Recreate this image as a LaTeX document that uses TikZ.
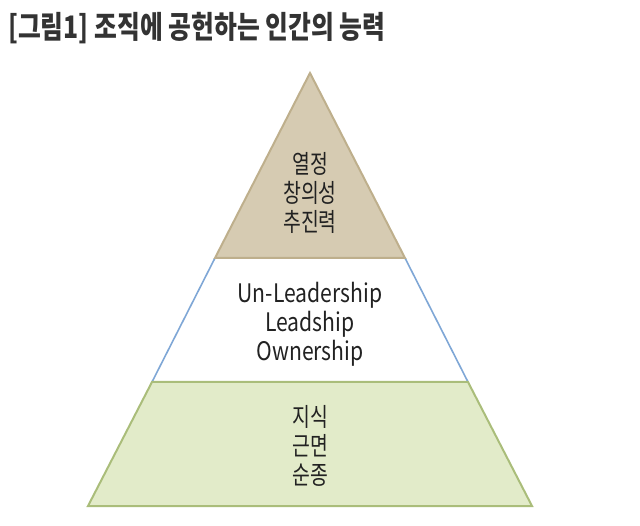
\documentclass[tikz,border=0pt]{standalone}
\usepackage{fontspec}
\newfontfamily\krfont[FakeStretch=0.76]{Noto Sans CJK KR}
\newfontfamily\enfont[FakeStretch=0.83]{Noto Sans CJK KR}
\newfontfamily\headfont[FakeStretch=0.8]{Noto Sans CJK KR}
\usepackage{xcolor}
\usepackage{tikz}
\usetikzlibrary{calc}
\definecolor{tan}{HTML}{D6CBB2}
\definecolor{tanline}{HTML}{BEAF8C}
\definecolor{skyline}{HTML}{7FA7D6}
\definecolor{lightgreen}{HTML}{E2EBC9}
\definecolor{greenline}{HTML}{AABD7A}
\definecolor{ink}{HTML}{222222}
\definecolor{titleink}{HTML}{333333}
\tikzset{
  layer/.style={line width=2pt,line join=miter},
  sideline/.style={draw=skyline,line width=1.6pt},
  tiertext/.style={
    text=ink,align=center,inner sep=0pt,
    font=\krfont\fontsize{25.5}{29}\selectfont
  },
  entext/.style={tiertext,font=\enfont\fontsize{25.5}{29}\selectfont},
  titletext/.style={
    text=titleink,inner sep=0pt,
    font=\headfont\bfseries\fontsize{31}{35}\selectfont
  }
}

\begin{document}
\begin{tikzpicture}[x=1pt,y=-1pt]
\useasboundingbox (0,0) rectangle (640,526);

% corners of the pyramid
\coordinate (apex) at (310,73);
\coordinate (tl) at (215,258);
\coordinate (tr) at (405,258);
\coordinate (ml) at (152,382);
\coordinate (mr) at (468,382);
\coordinate (bl) at (88,506);
\coordinate (br) at (532,506);

% middle layer first, the others overlap its edges
\fill[white] (tl) -- (tr) -- (mr) -- (ml) -- cycle;
\draw[sideline] (tl) -- (ml) (tr) -- (mr);
\filldraw[layer,fill=tan,draw=tanline] (apex) -- (tr) -- (tl) -- cycle;
\filldraw[layer,fill=lightgreen,draw=greenline] (ml) -- (mr) -- (br) -- (bl) -- cycle;

\node[titletext,anchor=west] (title) at (8,28) {[그림1] 조직에 공헌하는 인간의 능력};
\node[tiertext] (peak) at (310,193) {열정\\창의성\\추진력};
\node[entext] (core) at (310,324) {Un-Leadership\\Leadship\\Ownership};
\node[tiertext] (base) at (310,446) {지식\\근면\\순종};
\end{tikzpicture}
\end{document}
